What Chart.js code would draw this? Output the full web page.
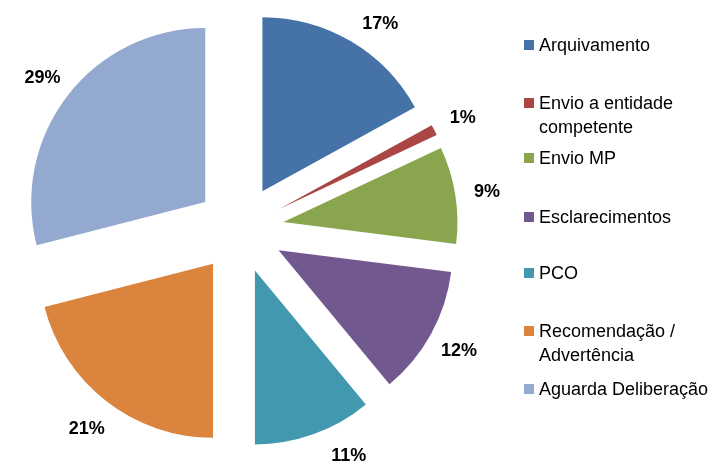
<!DOCTYPE html>
<html>
<head>
<meta charset="utf-8">
<script src="https://cdn.jsdelivr.net/npm/chart.js@4.4.0/dist/chart.umd.min.js"></script>
<style>
  html, body { margin: 0; padding: 0; background: #fff; }
  #wrap { width: 714px; height: 463px; position: relative; }
</style>
</head>
<body>
<div id="wrap"><canvas id="chart"></canvas></div>
<script>
var categories = ['Arquivamento', 'Envio a entidade competente', 'Envio MP', 'Esclarecimentos', 'PCO', 'Recomendação / Advertência', 'Aguarda Deliberação'];
var values = [17, 1, 9, 12, 11, 21, 29];
var colors = ['#4572A7', '#AA4643', '#89A54E', '#71588F', '#4198AF', '#DB843D', '#93A9CF'];

var EXPLODE = 44;
// legend rows: centre of the first text line
var legendRows = [45, 103, 158, 217, 273, 331, 389];

// pull every slice away from the centre (exploded pie)
var explodePlugin = {
    id: 'explode',
    afterDatasetUpdate: function (chart, args) {
        args.meta.data.forEach(function (arc) {
            var mid = (arc.startAngle + arc.endAngle) / 2;
            arc.x += Math.cos(mid) * EXPLODE;
            arc.y += Math.sin(mid) * EXPLODE;
        });
    }
};

var sliceLabels = {
    id: 'sliceLabels',
    afterDatasetsDraw: function (chart) {
        var ctx = chart.ctx;
        var meta = chart.getDatasetMeta(0);
        var total = values.reduce(function (a, b) { return a + b; }, 0);
        ctx.save();
        ctx.font = 'bold 18px "Liberation Sans", Arial, sans-serif';
        ctx.fillStyle = '#000';
        ctx.textAlign = 'center';
        ctx.textBaseline = 'alphabetic';
        meta.data.forEach(function (arc, i) {
            var text = Math.round(values[i] / total * 100) + '%';
            var w = ctx.measureText(text).width, h = 14;
            var mid = (arc.startAngle + arc.endAngle) / 2;
            var cx = arc.x - Math.cos(mid) * EXPLODE;
            var cy = arc.y - Math.sin(mid) * EXPLODE;
            var d = EXPLODE + arc.outerRadius + 32;
            var fits = function (a) {
                var x = cx + Math.cos(a) * d, y = cy + Math.sin(a) * d;
                return y - h / 2 >= 14 && y + h / 2 <= chart.height - 1 &&
                    x - w / 2 >= 2 && x + w / 2 <= chart.width - 2;
            };
            var a = mid, step = Math.PI / 360;
            for (var k = 1; k < 60 && !fits(a); k++) {
                if (fits(mid + k * step)) { a = mid + k * step; break; }
                if (fits(mid - k * step)) { a = mid - k * step; break; }
            }
            ctx.fillText(text, cx + Math.cos(a) * d, cy + Math.sin(a) * d + 7);
        });
        ctx.restore();
    }
};

var sideLegend = {
    id: 'sideLegend',
    afterDraw: function (chart) {
        var ctx = chart.ctx;
        ctx.save();
        ctx.font = '18px "Liberation Sans", Arial, sans-serif';
        ctx.textBaseline = 'alphabetic';
        ctx.textAlign = 'left';
        categories.forEach(function (name, i) {
            var y = legendRows[i];
            ctx.fillStyle = colors[i];
            ctx.fillRect(524, y - 5, 10, 10);
            // wrap long names on two lines
            var lines = [name];
            if (ctx.measureText(name).width > 200) {
                var words = name.split(' '), first = '';
                while (words.length && ctx.measureText((first + ' ' + words[0]).trim()).width <= 170) {
                    first = (first + ' ' + words.shift()).trim();
                }
                lines = [first, words.join(' ')];
            }
            ctx.fillStyle = '#000';
            lines.forEach(function (line, j) {
                ctx.fillText(line, 539, y + 6 + j * 24);
            });
        });
        ctx.restore();
    }
};

var chart = new Chart(
    document.getElementById('chart'),
    {
        type: 'pie',
        data: {
            labels: categories,
            datasets: [{
                data: values,
                backgroundColor: colors,
                borderWidth: 0,
                hoverOffset: 0
            }]
        },
        options: {
            responsive: true,
            maintainAspectRatio: false,
            animation: false,
            events: [],
            radius: 174,
            layout: {
                padding: { left: 0, right: 234, top: 0, bottom: 5 }
            },
            plugins: {
                legend: { display: false },
                tooltip: { enabled: false }
            }
        },
        plugins: [explodePlugin, sliceLabels, sideLegend]
    });
</script>
</body>
</html>
